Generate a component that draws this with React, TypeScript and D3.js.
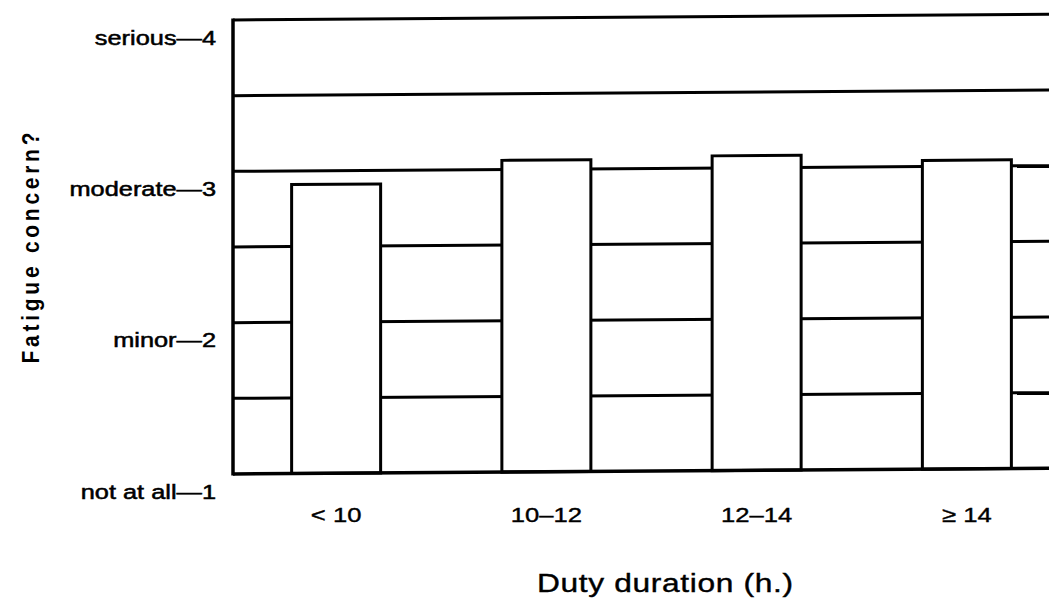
import React, { useEffect, useRef } from "react";
import * as d3 from "d3";

const categories = ["< 10", "10–12", "12–14", "≥ 14"];
const concern = [2.91, 3.06, 3.08, 3.04];
const levelTicks = [1, 2, 3, 4];
const levelLabels = ["not at all—1", "minor—2", "moderate—3", "serious—4"];
const gridValues = [1.5, 2, 2.5, 3, 3.5, 4];

export default function App() {
  const svgRef = useRef<SVGSVGElement>(null);

  useEffect(() => {
    const width = 1049;
    const height = 599;
    const left = 233;
    const font = "'Liberation Sans', Arial, Helvetica, sans-serif";

    const root = d3.select(svgRef.current);
    root.selectAll("*").remove();
    const svg = root.attr("width", width).attr("height", height);

    const x = d3.scalePoint<string>().domain(categories).range([231, 1072]).padding(0.5);
    const y = d3.scaleLinear().domain([1, 4]).range([474, 20]);
    const barW = 89;

    // the scanned plot drifts upward to the right, verticals stay vertical
    const plot = svg
      .append("g")
      .attr("transform", `translate(${left}, ${y(1)}) skewY(-0.4) translate(${-left}, ${-y(1)})`);

    plot
      .selectAll("line.grid")
      .data(gridValues)
      .join("line")
      .attr("class", "grid")
      .attr("x1", left)
      .attr("x2", width + 20)
      .attr("y1", (d) => y(d))
      .attr("y2", (d) => y(d))
      .attr("stroke", "#000")
      .attr("stroke-width", 3);

    plot
      .selectAll("rect")
      .data(concern)
      .join("rect")
      .attr("x", (_, i) => (x(categories[i]) as number) - barW / 2)
      .attr("y", (d) => y(d))
      .attr("width", barW)
      .attr("height", (d) => y(1) - y(d))
      .attr("fill", "#fff")
      .attr("stroke", "#000")
      .attr("stroke-width", 3);

    plot
      .append("line")
      .attr("x1", left)
      .attr("x2", width + 20)
      .attr("y1", y(1))
      .attr("y2", y(1))
      .attr("stroke", "#000")
      .attr("stroke-width", 3.5);

    plot
      .append("line")
      .attr("x1", left)
      .attr("x2", left)
      .attr("y1", y(4) - 1.5)
      .attr("y2", y(1) + 1.5)
      .attr("stroke", "#000")
      .attr("stroke-width", 3.5);

    // y tick labels (text in the scan is stretched sideways)
    svg
      .selectAll("text.ylab")
      .data(levelTicks)
      .join("text")
      .attr("class", "ylab")
      .attr("transform", (d) => `translate(216, ${y(d) + 24.5}) scale(1.3, 1)`)
      .attr("text-anchor", "end")
      .attr("font-family", font)
      .attr("font-size", 19.5)
      .attr("fill", "#000")
      .attr("stroke", "#000")
      .attr("stroke-width", 0.5)
      .text((_, i) => levelLabels[i]);

    svg
      .selectAll("text.xlab")
      .data(categories)
      .join("text")
      .attr("class", "xlab")
      .attr("transform", (d) => `translate(${x(d)}, ${y(1) + 48}) scale(1.22, 1)`)
      .attr("text-anchor", "middle")
      .attr("font-family", font)
      .attr("font-size", 21)
      .attr("fill", "#000")
      .attr("stroke", "#000")
      .attr("stroke-width", 0.4)
      .text((d) => d);

    svg
      .append("text")
      .attr("transform", "translate(665, 592) scale(1.22, 1)")
      .attr("text-anchor", "middle")
      .attr("font-family", font)
      .attr("font-size", 26)
      .attr("fill", "#000")
      .attr("stroke", "#000")
      .attr("stroke-width", 0.4)
      .attr("textLength", 210)
      .attr("lengthAdjust", "spacing")
      .text("Duty duration (h.)");

    svg
      .append("text")
      .attr("transform", "translate(39, 248) rotate(-90) scale(1, 1.15)")
      .attr("text-anchor", "middle")
      .attr("font-family", font)
      .attr("font-size", 21)
      .attr("font-weight", "bold")
      .attr("textLength", 231)
      .attr("lengthAdjust", "spacing")
      .attr("fill", "#000")
      .text("Fatigue concern?");
  }, []);

  return (
    <div>
      <svg
        ref={svgRef}
        style={{ position: "absolute", left: 0, top: 0, background: "#fff" }}
      ></svg>
    </div>
  );
}
